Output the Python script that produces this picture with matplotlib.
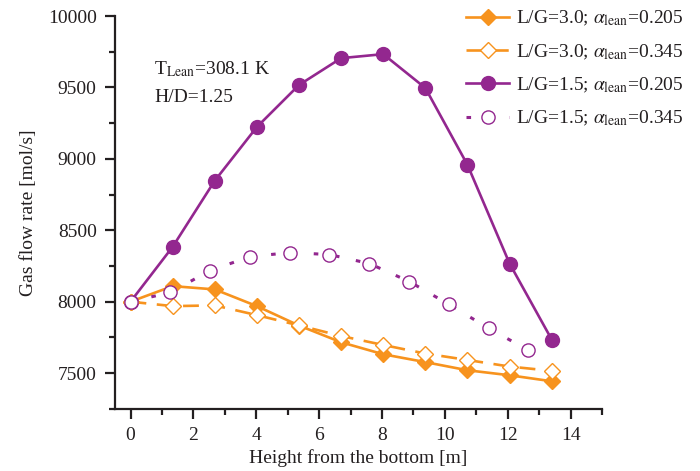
import matplotlib
matplotlib.use("Agg")
import matplotlib.pyplot as plt
from matplotlib.ticker import MultipleLocator

plt.rcParams['font.family'] = ['Liberation Serif', 'DejaVu Serif']
plt.rcParams['mathtext.fontset'] = 'stix'

# Data
x_a = [0, 1.34, 2.68, 4.02, 5.36, 6.7, 8.04, 9.38, 10.72, 12.06, 13.4]
lg3_a205 = [8000, 8109, 8086, 7969, 7833, 7716, 7632, 7577, 7520, 7485, 7443]
lg3_a345 = [8000, 7969, 7974, 7906, 7834, 7760, 7697, 7637, 7592, 7546, 7516]
lg15_a205 = [8000, 8384, 8847, 9223, 9517, 9705, 9733, 9496, 8958, 8267, 7735]
x_b = [0, 1.27, 2.53, 3.8, 5.07, 6.33, 7.6, 8.87, 10.13, 11.4, 12.66]
lg15_a345 = [8000, 8065, 8218, 8315, 8344, 8330, 8267, 8141, 7981, 7813, 7660]

labels = [r"L/G=3.0; $\alpha_{\rm lean}$=0.205",
          r"L/G=3.0; $\alpha_{\rm lean}$=0.345",
          r"L/G=1.5; $\alpha_{\rm lean}$=0.205",
          r"L/G=1.5; $\alpha_{\rm lean}$=0.345"]

orange = '#F7931E'
purple = '#93278F'

fig = plt.figure(figsize=(7, 4.71), dpi=100)
ax = fig.add_axes([0.164, 0.132, 0.696, 0.834])

ax.plot(x_a, lg3_a205, color=orange, lw=1.9, marker='D', ms=8, mfc=orange, mec=orange, label=labels[0], zorder=3)
ax.plot(x_a, lg3_a345, color=orange, lw=1.9, ls=(0, (6, 4)), marker='D', ms=8, mfc='white', mec=orange, mew=1.0, label=labels[1], zorder=4)
ax.plot(x_a, lg15_a205, color=purple, lw=1.9, marker='o', ms=10, mfc=purple, mec=purple, label=labels[2], zorder=3)
ax.plot(x_b, lg15_a345, color=purple, lw=2.2, ls=(0, (1.5, 5.5)), marker='o', ms=9.5, mfc='white', mec=purple, mew=1.0, label=labels[3], zorder=5)

ax.set_xlim(-0.5, 15)
ax.set_ylim(7250, 10000)
ax.xaxis.set_major_locator(MultipleLocator(2))
ax.xaxis.set_minor_locator(MultipleLocator(1))
ax.yaxis.set_major_locator(MultipleLocator(500))
ax.yaxis.set_minor_locator(MultipleLocator(250))
ax.set_yticks([7500, 8000, 8500, 9000, 9500, 10000])

for s in ['top', 'right']:
    ax.spines[s].set_visible(False)
for s in ['left', 'bottom']:
    ax.spines[s].set_linewidth(1.6)
    ax.spines[s].set_color('#231F20')

ax.tick_params(which='major', direction='out', length=7, width=1.6, labelsize=14, colors='#231F20', pad=6)
ax.tick_params(which='minor', direction='out', length=4, width=1.6, colors='#231F20')

ax.set_xlabel("Height from the bottom [m]", fontsize=14, color='#231F20', labelpad=4)
ax.set_ylabel("Gas flow rate [mol/s]", fontsize=14, color='#231F20', labelpad=8)

ax.text(0.75, 9630, r"T$_{\rm Lean}$=308.1 K", fontsize=14, color='#231F20', va='center')
ax.text(0.75, 9430, "H/D=1.25", fontsize=14, color='#231F20', va='center')

leg = ax.legend(loc='upper left', bbox_to_anchor=(0.655, 0.998), bbox_transform=fig.transFigure,
                frameon=False, fontsize=14, handlelength=2.2, handletextpad=0.35,
                labelspacing=0.72, borderaxespad=0)
for t in leg.get_texts():
    t.set_color('#231F20')

fig.savefig("out.png", dpi=100)
